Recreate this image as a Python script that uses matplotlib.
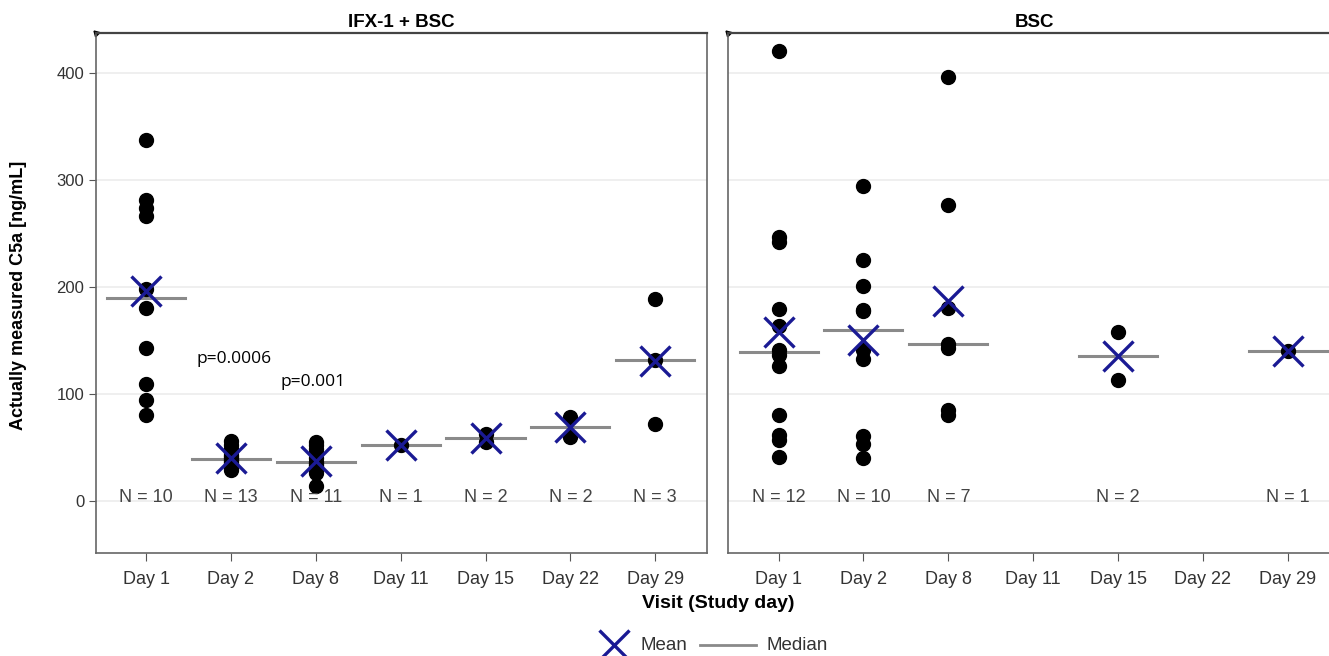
import numpy as np
import matplotlib
matplotlib.use('Agg')
import matplotlib.pyplot as plt

days = ['Day 1', 'Day 2', 'Day 8', 'Day 11', 'Day 15', 'Day 22', 'Day 29']

# C5a values per visit, IFX-1 + BSC arm
ifx_vals = [
    [337, 281, 273, 266, 198, 180, 143, 109, 94, 80],
    [56, 52, 48, 45, 43, 41, 39, 37, 35, 33, 31, 30, 29],
    [55, 52, 48, 44, 40, 36, 34, 32, 28, 26, 14],
    [52],
    [55, 62],
    [78, 59],
    [188, 131, 72],
]

# BSC arm
bsc_vals = [
    [420, 246, 242, 179, 163, 141, 136, 126, 80, 61, 57, 41],
    [294, 225, 201, 178, 177, 141, 132, 60, 53, 40],
    [396, 276, 180, 146, 143, 85, 80],
    [],
    [158, 113],
    [],
    [140],
]

p_texts = ['p=0.0006', 'p=0.001']
p_pos = [(0.6, 132), (1.58, 111)]

plt.rcParams['font.family'] = ['Liberation Sans', 'DejaVu Sans']

fig = plt.figure(figsize=(13.29, 6.56), dpi=100)
ax1 = fig.add_axes([96/1329, 1-553/656, 611/1329, 520/656])
ax2 = fig.add_axes([728.5/1329, 1-553/656, 611/1329, 520/656])

navy = '#1a1a94'
grey = '#8a8a8a'

def draw_panel(ax, vals, title):
    x = np.arange(len(days))
    for i, v in enumerate(vals):
        if len(v) == 0:
            continue
        ax.plot([i]*len(v), v, 'o', color='black', ms=10, zorder=3)
        med = np.median(v)
        ax.plot([i-0.46, i+0.46], [med, med], '-', color=grey, lw=2.2, zorder=2)
        ax.plot(i, np.mean(v), 'x', color=navy, ms=21, mew=2.4, zorder=4)
        ax.text(i, 3, 'N = %d' % len(v), ha='center', va='center', fontsize=13, color='#444444')
    ax.set_xlim(-0.59, 6.61)
    ax.set_ylim(-49, 437)
    ax.set_xticks(x)
    ax.set_xticklabels(days, fontsize=13, color='#333333')
    ax.set_yticks([0, 100, 200, 300, 400])
    ax.grid(axis='y', color='#ececec', lw=1.2, zorder=0)
    ax.set_axisbelow(True)
    for s in ax.spines.values():
        s.set_color('#666666')
        s.set_linewidth(1.2)
    ax.spines['top'].set_color('#444444')
    ax.spines['top'].set_linewidth(1.6)
    ax.tick_params(axis='x', length=6, color='#555555', pad=7)
    ax.tick_params(axis='y', length=5, color='#555555', labelsize=12, labelcolor='#333333')
    ax.set_title(title, fontsize=13.5, fontweight='bold', pad=4)
    ax.plot(0, 1, marker=(3, 0, 45), color='black', ms=5, transform=ax.transAxes, clip_on=False)

draw_panel(ax1, ifx_vals, 'IFX-1 + BSC')
draw_panel(ax2, bsc_vals, 'BSC')
ax2.tick_params(axis='y', left=False, labelleft=False)

for t, (px, py) in zip(p_texts, p_pos):
    ax1.text(px, py, t, ha='left', va='center', fontsize=12.5, color='black', family=['Open Sans', 'DejaVu Sans'])

fig.text(19/1329, 1-295/656, 'Actually measured C5a [ng/mL]', rotation=90, ha='center', va='center',
         fontsize=13, fontweight='bold')
fig.text(718/1329, 1-603/656, 'Visit (Study day)', ha='center', va='center', fontsize=14, fontweight='bold')

# legend
fig.lines.append(plt.Line2D([614/1329], [1-645/656], marker='x', color=navy, ms=21, mew=2.4,
                            transform=fig.transFigure, linestyle='none'))
fig.text(640/1329, 1-645/656, 'Mean', ha='left', va='center', fontsize=13.5, color='#333333')
fig.lines.append(plt.Line2D([700/1329, 756/1329], [1-645/656, 1-645/656], color=grey, lw=2,
                            transform=fig.transFigure))
fig.text(767/1329, 1-645/656, 'Median', ha='left', va='center', fontsize=13.5, color='#333333')

fig.savefig('out.png', dpi=100)
